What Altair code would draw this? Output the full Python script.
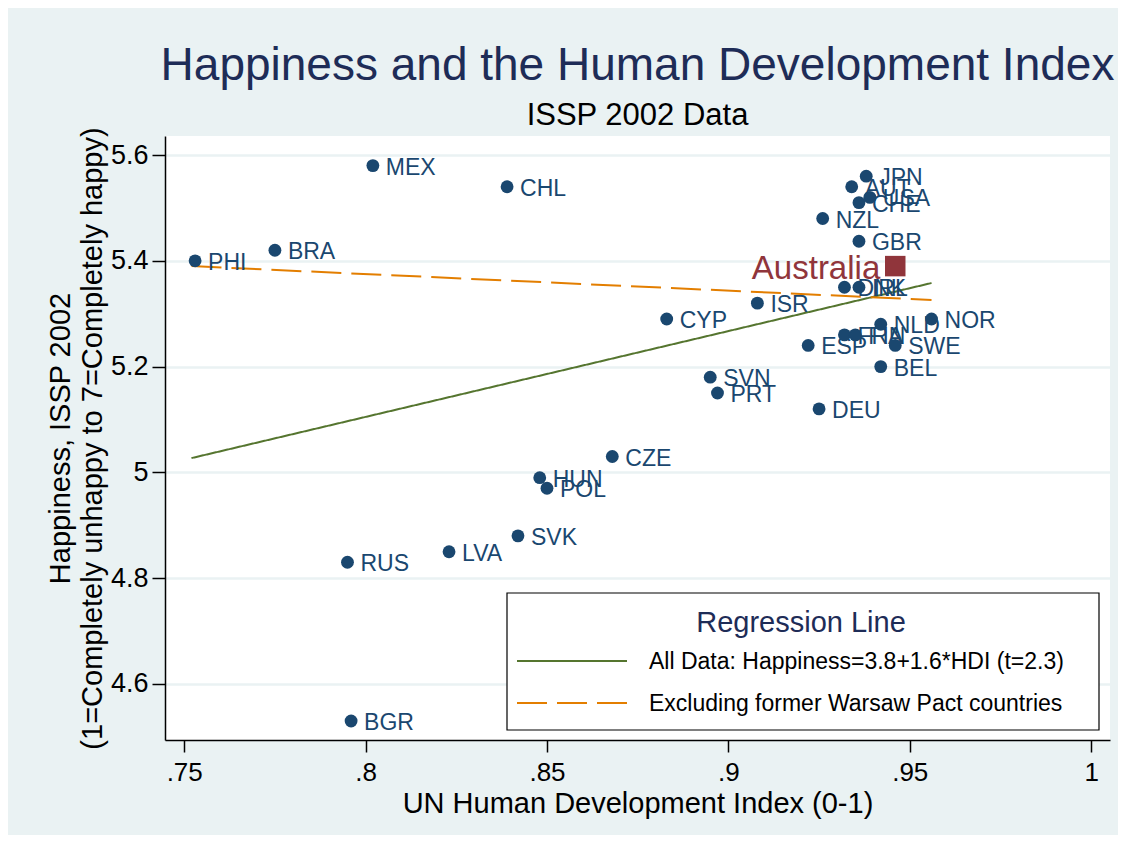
import altair as alt
import pandas as pd

FONT = "Liberation Sans"
NAVY = "#1a476f"
MAROON = "#90353b"
GREEN = "#55752f"
ORANGE = "#e37e00"
BG = "#eaf2f3"
TITLE_C = "#1e2c57"

# ---- data ----
countries = ["MEX", "CHL", "PHI", "BRA", "JPN", "AUT", "USA", "CHE", "NZL", "GBR",
             "DNK", "IRL", "ISR", "CYP", "NLD", "NOR", "FRA", "FIN", "ESP", "SWE",
             "BEL", "SVN", "PRT", "DEU", "CZE", "HUN", "POL", "SVK", "LVA", "RUS", "BGR"]
hdi = [0.802, 0.839, 0.753, 0.775, 0.938, 0.934, 0.939, 0.936, 0.926, 0.936,
       0.932, 0.936, 0.908, 0.883, 0.942, 0.956, 0.932, 0.935, 0.922, 0.946,
       0.942, 0.895, 0.897, 0.925, 0.868, 0.848, 0.850, 0.842, 0.823, 0.795, 0.796]
happiness = [5.58, 5.54, 5.40, 5.42, 5.56, 5.54, 5.52, 5.51, 5.48, 5.437,
             5.35, 5.35, 5.32, 5.29, 5.28, 5.29, 5.26, 5.26, 5.24, 5.24,
             5.20, 5.18, 5.15, 5.12, 5.03, 4.99, 4.97, 4.88, 4.85, 4.83, 4.53]

highlight_name = ["Australia"]
highlight_hdi = [0.946]
highlight_happiness = [5.39]

line_series = ["All Data", "All Data", "Excl. Warsaw Pact", "Excl. Warsaw Pact"]
line_hdi = [0.752, 0.956, 0.752, 0.956]
line_happiness = [5.027, 5.358, 5.390, 5.326]

x_ticks = [0.75, 0.8, 0.85, 0.9, 0.95, 1.0]
y_ticks = [4.6, 4.8, 5.0, 5.2, 5.4, 5.6]

legend_title = "Regression Line"
legend_labels = ["All Data: Happiness=3.8+1.6*HDI (t=2.3)",
                 "Excluding former Warsaw Pact countries"]

# ---- tables ----
pts = pd.DataFrame({"country": countries, "hdi": hdi, "happy": happiness})
aus = pd.DataFrame({"country": highlight_name, "hdi": highlight_hdi, "happy": highlight_happiness})
lines = pd.DataFrame({"series": line_series, "hdi": line_hdi, "happy": line_happiness})

xscale = alt.Scale(domain=[0.7447, 1.0052], nice=False, zero=False)
yscale = alt.Scale(domain=[4.494, 5.636], nice=False, zero=False)

xaxis = alt.Axis(values=x_ticks,
                 labelExpr="datum.value >= 1 ? '1' : substring(format(datum.value, '.2~f'), 1)",
                 grid=False, domainColor="black", domainWidth=1.5,
                 tickColor="black", tickWidth=1.5, tickSize=12,
                 labelFont=FONT, labelFontSize=26, labelColor="black", labelPadding=7,
                 title="UN Human Development Index (0-1)", titleFont=FONT,
                 titleFontSize=29, titleFontWeight="normal", titleColor="black",
                 titlePadding=4)
yaxis = alt.Axis(values=y_ticks, format=".1~f",
                 grid=True, gridColor=BG, gridWidth=2.5,
                 domainColor="black", domainWidth=1.5,
                 tickColor="black", tickWidth=1.5, tickSize=13,
                 labelFont=FONT, labelFontSize=27, labelColor="black", labelPadding=4,
                 title=["Happiness, ISSP 2002", "(1=Completely unhappy to 7=Completely happy)"],
                 titleFont=FONT, titleFontSize=29, titleFontWeight="normal",
                 titleColor="black", titlePadding=3, titleLineHeight=32)

X = alt.X("hdi:Q", scale=xscale, axis=xaxis)
Y = alt.Y("happy:Q", scale=yscale, axis=yaxis)

reg = alt.Chart(lines).mark_line(strokeWidth=2).encode(
    x=X, y=Y, detail="series:N",
    color=alt.Color("series:N", scale=alt.Scale(domain=["All Data", "Excl. Warsaw Pact"],
                                                 range=[GREEN, ORANGE]), legend=None),
    strokeDash=alt.StrokeDash("series:N", scale=alt.Scale(domain=["All Data", "Excl. Warsaw Pact"],
                                                          range=[[1, 0], [30, 10]]), legend=None),
)

dots = alt.Chart(pts).mark_circle(size=165, opacity=1, color=NAVY).encode(x=X, y=Y)
labels = alt.Chart(pts).mark_text(align="left", baseline="middle", dx=13, dy=2,
                                  font=FONT, fontSize=23, color=NAVY).encode(
    x=X, y=Y, text="country:N")

aus_pt = alt.Chart(aus).mark_square(size=420, opacity=1, color=MAROON).encode(x=X, y=Y)
aus_lab = alt.Chart(aus).mark_text(align="right", baseline="middle", dx=-15, dy=3,
                                   font=FONT, fontSize=33, color=MAROON).encode(
    x=X, y=Y, text="country:N")

one = pd.DataFrame({"k": [0]})
leg_box = alt.Chart(one).mark_rect(fill="white", stroke="black", strokeWidth=1.2).encode(
    x=alt.value(342), x2=alt.value(934), y=alt.value(457), y2=alt.value(594))
leg_title = alt.Chart(pd.DataFrame({"t": [legend_title]})).mark_text(
    align="center", baseline="middle", font=FONT, fontSize=29, color=TITLE_C).encode(
    x=alt.value(636), y=alt.value(487), text="t:N")
leg_l1 = alt.Chart(one).mark_rule(color=GREEN, strokeWidth=2).encode(
    x=alt.value(352), x2=alt.value(462), y=alt.value(525))
leg_l2 = alt.Chart(one).mark_rule(color=ORANGE, strokeWidth=2, strokeDash=[30, 10]).encode(
    x=alt.value(352), x2=alt.value(462), y=alt.value(567))
leg_t1 = alt.Chart(pd.DataFrame({"t": [legend_labels[0]]})).mark_text(
    align="left", baseline="middle", font=FONT, fontSize=23, color="black").encode(
    x=alt.value(484), y=alt.value(526), text="t:N")
leg_t2 = alt.Chart(pd.DataFrame({"t": [legend_labels[1]]})).mark_text(
    align="left", baseline="middle", font=FONT, fontSize=23, color="black").encode(
    x=alt.value(484), y=alt.value(568), text="t:N")

chart = alt.layer(
    reg, dots, labels, aus_pt, aus_lab,
    leg_box, leg_title, leg_l1, leg_l2, leg_t1, leg_t2
).properties(
    width=945, height=604,
    autosize=alt.AutoSizeParams(type="none"),
    padding={"left": 157, "top": 128, "right": 8, "bottom": 95},
    background=BG,
    title=alt.TitleParams(
        text="Happiness and the Human Development Index",
        subtitle="ISSP 2002 Data",
        font=FONT, fontSize=46, fontWeight="normal", color=TITLE_C,
        subtitleFont=FONT, subtitleFontSize=31, subtitleColor="black",
        anchor="middle", frame="group", offset=-5, subtitlePadding=11),
).configure_view(fill="white", stroke=None)

chart.save("out.html", embed_options={"renderer": "svg", "actions": False})
